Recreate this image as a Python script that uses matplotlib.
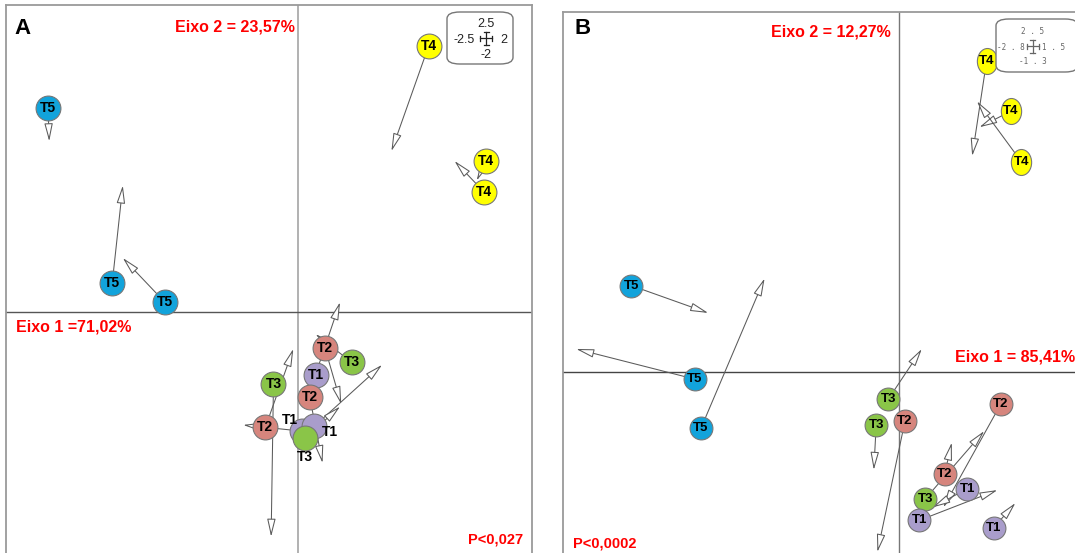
import matplotlib
matplotlib.use("Agg")
import matplotlib.pyplot as plt
import numpy as np
from matplotlib.patches import FancyBboxPatch
from matplotlib.lines import Line2D
from matplotlib.path import Path
from matplotlib.markers import MarkerStyle

plt.rcParams["font.family"] = ["Liberation Sans", "DejaVu Sans"]

W, H = 1075, 553

# ── Colours ──────────────────────────────────
COLORS = {"T1": "#A99DCB", "T2": "#D6857D", "T3": "#8AC548",
          "T4": "#FFFF00", "T5": "#12A3DB"}
RED = "#FF0000"
ARROW_C = "#5a5a5a"

# ── Panel A data (ordination units) ──────────
a_groups = ["T5", "T5", "T5", "T4", "T4", "T4",
            "T2", "T3", "T1", "T2", "T3", "T2", "T1", "T1", "T3"]
a_x = [-2.14, -1.59, -1.14, 1.12, 1.61, 1.59,
       0.23, 0.46, 0.15, 0.10, -0.21, -0.28, 0.03, 0.14, 0.06]
a_y = [1.66, 0.24, 0.08, 2.17, 1.23, 0.98,
       -0.29, -0.41, -0.51, -0.69, -0.59, -0.94, -0.97, -0.93, -1.03]
a_dx = [0.01, 0.09, -0.36, -0.32, -0.08, -0.25,
        0.14, -0.31, 0.21, 0.11, -0.02, 0.24, -0.50, 0.58, 0.30]
a_dy = [-0.27, 0.79, 0.36, -0.86, -0.16, 0.25,
        -0.46, 0.23, 0.59, -0.54, -1.24, 0.64, 0.05, 0.50, 0.26]
# points whose label sits outside the marker (overlapping cluster)
a_outside = [12, 13, 14]
a_out_lbl = ["T1", "T1", "T3"]
a_out_dx = [-0.10, 0.13, 0.00]
a_out_dy = [0.09, -0.05, -0.15]

# ── Panel B data ─────────────────────────────
b_groups = ["T4", "T4", "T4", "T5", "T5", "T5",
            "T3", "T3", "T2", "T2", "T2", "T3", "T1", "T1", "T1"]
b_x = [0.73, 0.93, 1.02, -2.23, -1.70, -1.65,
       -0.09, -0.19, 0.05, 0.85, 0.38, 0.22, 0.57, 0.17, 0.79]
b_y = [2.16, 1.81, 1.46, 0.60, -0.05, -0.39,
       -0.19, -0.37, -0.34, -0.22, -0.71, -0.88, -0.81, -1.03, -1.08]
b_dx = [-0.12, -0.26, -0.37, 0.64, -0.99, 0.53,
        0.28, -0.02, -0.23, -0.48, 0.06, 0.49, -0.29, 0.65, 0.18]
b_dy = [-0.66, -0.11, 0.42, -0.19, 0.21, 1.04,
        0.35, -0.31, -0.91, -0.72, 0.22, 0.47, -0.13, 0.21, 0.17]


def fx(px):
    return px / W


def fy(py):
    return 1 - py / H


fig = plt.figure(figsize=(W / 100, H / 100), dpi=100, facecolor="white")

# axes rectangles (pixel-measured frames)
axA = fig.add_axes([fx(6), fy(557.6), fx(531.6) - fx(6), fy(5) - fy(557.6)])
axB = fig.add_axes([fx(563), fy(559.2), fx(1079) - fx(563), fy(12) - fy(559.2)])
axA.set_xlim(-2.5, 2.0)
axA.set_ylim(-2.0, 2.5)
axB.set_xlim(-2.8, 1.5)
axB.set_ylim(-1.3, 2.5)

for ax in (axA, axB):
    ax.set_xticks([])
    ax.set_yticks([])
    for sp in ax.spines.values():
        sp.set_edgecolor("#9a9a9a")
        sp.set_linewidth(1.3)

axA.axvline(0, color="#ababab", lw=1.3, zorder=1)
axA.axhline(0, color="#555555", lw=1.0, zorder=1)
axB.axvline(0, color="#777777", lw=1.0, zorder=1)
axB.axhline(0, color="#444444", lw=1.0, zorder=1)

circle = MarkerStyle("o")
tall = Path(Path.unit_circle().vertices * np.array([0.78, 1.0]), Path.unit_circle().codes)


def draw_panel(ax, groups, xs, ys, dxs, dys, size, fsize, skip_lbl=(), tall_groups=()):
    for g, x, y, dx, dy in zip(groups, xs, ys, dxs, dys):
        ax.annotate("", xy=(x + dx, y + dy), xytext=(x, y),
                    arrowprops=dict(arrowstyle="-|>,head_length=1.1,head_width=0.26",
                                    fc="white", ec=ARROW_C, lw=0.75,
                                    shrinkA=0, shrinkB=0, mutation_scale=10),
                    zorder=2)
    for i, (g, x, y) in enumerate(zip(groups, xs, ys)):
        if g in tall_groups:
            ax.scatter([x], [y], s=350, marker=tall, c=COLORS[g],
                       edgecolors="#777777", linewidths=0.8, zorder=4 + i * 0.01)
        else:
            ax.scatter([x], [y], s=size, marker=circle, c=COLORS[g],
                       edgecolors="#777777", linewidths=0.8, zorder=4 + i * 0.01)
        if i not in skip_lbl:
            ax.text(x, y, g, ha="center", va="center", fontsize=fsize,
                    fontweight="bold", color="black", zorder=6)


draw_panel(axA, a_groups, a_x, a_y, a_dx, a_dy, 320, 10, skip_lbl=a_outside)
for i, lbl, ox, oy in zip(a_outside, a_out_lbl, a_out_dx, a_out_dy):
    axA.text(a_x[i] + ox, a_y[i] + oy, lbl, ha="center", va="center",
             fontsize=10, fontweight="bold", color="black", zorder=6)

draw_panel(axB, b_groups, b_x, b_y, b_dx, b_dy, 270, 9.5, tall_groups=("T4",))

# ── Panel annotations ─────────────────────────
fig.text(fx(14), fy(28), "A", fontsize=16, fontweight="bold", va="center", ha="left")
fig.text(fx(574), fy(29), "B", fontsize=16, fontweight="bold", va="center", ha="left")

fig.text(fx(295), fy(27), "Eixo 2 = 23,57%", color=RED, fontsize=11.5,
         fontweight="bold", ha="right", va="center")
fig.text(fx(16), fy(327), "Eixo 1 =71,02%", color=RED, fontsize=11.5,
         fontweight="bold", ha="left", va="center")
fig.text(fx(523), fy(539), "P<0,027", color=RED, fontsize=10.5,
         fontweight="bold", ha="right", va="center")

fig.text(fx(891), fy(32), "Eixo 2 = 12,27%", color=RED, fontsize=11.5,
         fontweight="bold", ha="right", va="center")
fig.text(fx(1075), fy(357), "Eixo 1 = 85,41%", color=RED, fontsize=11.5,
         fontweight="bold", ha="right", va="center")
fig.text(fx(573), fy(544), "P<0,0002", color=RED, fontsize=10.5,
         fontweight="bold", ha="left", va="center")


# ── Scale boxes ───────────────────────────────
def scale_box(x0, y0, x1, y1, cx, cy, hw, hh, labels, offs, font, color, fsz):
    box = FancyBboxPatch((fx(x0), fy(y1)), fx(x1) - fx(x0), fy(y0) - fy(y1),
                         boxstyle="round,pad=0,rounding_size=0.012",
                         transform=fig.transFigure, fc="white", ec="#777777", lw=1.0)
    fig.add_artist(box)
    cap = 2.5
    segs = [((cx - hw, cx + hw), (cy, cy)), ((cx, cx), (cy - hh, cy + hh)),
            ((cx - hw, cx - hw), (cy - cap, cy + cap)), ((cx + hw, cx + hw), (cy - cap, cy + cap)),
            ((cx - cap, cx + cap), (cy - hh, cy - hh)), ((cx - cap, cx + cap), (cy + hh, cy + hh))]
    for xs, ys in segs:
        fig.add_artist(Line2D([fx(v) for v in xs], [fy(v) for v in ys],
                              transform=fig.transFigure, color=color, lw=0.9))
    top, left, right, bottom = labels
    t_off, l_off, r_off, b_off = offs
    fig.text(fx(cx), fy(cy - t_off), top, ha="center", va="center", family=font, color=color, fontsize=fsz)
    fig.text(fx(cx - l_off), fy(cy + 2), left, ha="right", va="center", family=font, color=color, fontsize=fsz)
    fig.text(fx(cx + r_off), fy(cy + 2), right, ha="left", va="center", family=font, color=color, fontsize=fsz)
    fig.text(fx(cx), fy(cy + b_off), bottom, ha="center", va="center", family=font, color=color, fontsize=fsz)


scale_box(447, 12, 513, 64, 486, 38, 6, 6.5, ("2.5", "-2.5", "2", "-2"),
          (14, 11, 14, 17), "Liberation Sans", "#222222", 9)
scale_box(996, 19, 1078, 72, 1032.5, 46, 6, 6.5, ("2 . 5", "-2 . 8", "1 . 5", "-1 . 3"),
          (14, 8, 9, 16), "DejaVu Sans Mono", "#666666", 5.5)

fig.savefig("out.png", dpi=100, facecolor="white")
